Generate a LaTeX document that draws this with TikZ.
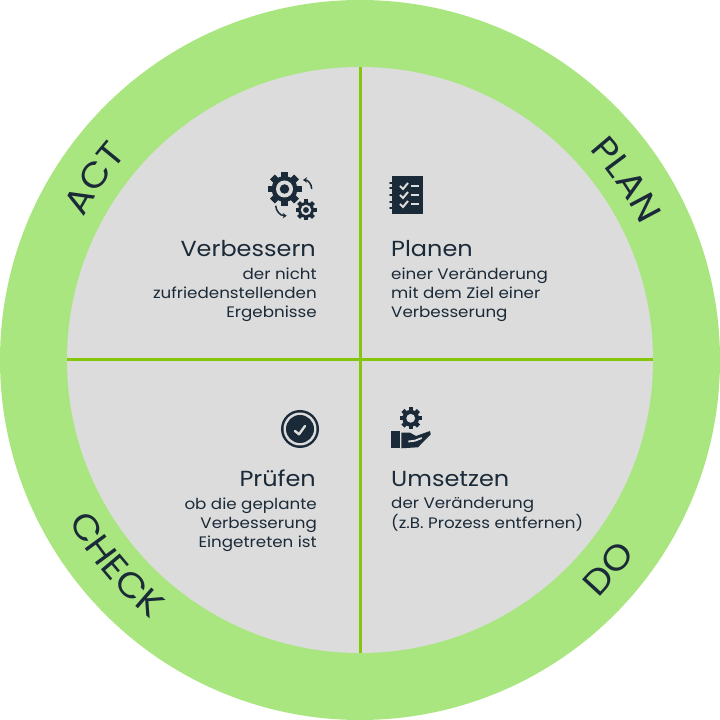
\documentclass[tikz,border=0pt]{standalone}
\usepackage{fontspec}
\setmainfont[FakeStretch=1.1]{Poppins}
\usetikzlibrary{decorations.text,arrows.meta}
\definecolor{ring}{HTML}{A9E680}
\definecolor{disc}{HTML}{DCDCDC}
\definecolor{axis}{HTML}{85C60A}
\definecolor{ink}{HTML}{1B2A38}
\tikzset{
 title/.style={text=ink,font=\fontsize{21.8}{24}\selectfont,inner sep=0pt},
 bodyL/.style={text=ink,font=\fontsize{15.2}{19.2}\selectfont,align=left,inner sep=0pt,anchor=north west},
 bodyR/.style={text=ink,font=\fontsize{15.2}{19.2}\selectfont,align=right,inner sep=0pt,anchor=north east},
 axisline/.style={draw=axis,line width=3pt},
 curved/.style={decorate,decoration={text along path,text align=center,text={|\fontsize{35}{35}\selectfont\color{ink}|#1}}},
 turnarrow/.style={draw=ink,line width=1.5pt,-{Stealth[length=4pt,width=5.5pt]}},
}
\newcommand{\gearmark}[4]{%
 \begin{scope}[shift={(#1,720-#2)}]
  \foreach \a in {1,...,#4}{\fill[ink,rotate=\a*360/#4] (-0.2*#3,0) rectangle (0.2*#3,#3);}
  \fill[ink] (0,0) circle (0.76*#3);
  \fill[disc] (0,0) circle (0.5*#3);
  \fill[ink] (0,0) circle (0.28*#3);
 \end{scope}}
\begin{document}
\begin{tikzpicture}[x=1pt,y=1pt]
\useasboundingbox (0,0) rectangle (720,720);
\fill[ring] (360,360) circle (360);
\fill[disc] (360,360) circle (293);
\coordinate (t) at (360,653); \coordinate (b) at (360,67);
\coordinate (l) at (67,360); \coordinate (r) at (653,360);
\draw[axisline] (t) -- (b);
\draw[axisline] (l) -- (r);
\path[curved={PLAN}] (360,360) ++(64:311) arc[start angle=64,end angle=4,radius=311];
\path[curved={ACT}] (360,360) ++(175.7:311) arc[start angle=175.7,end angle=115.7,radius=311];
\path[curved={CHECK}] (360,360) ++(185:333) arc[start angle=185,end angle=255,radius=333];
\path[curved={DO}] (360,360) ++(295:337) arc[start angle=295,end angle=345,radius=337];
\node[title,anchor=base east] (tv) at (316,720-257) {Verbessern};
\node[bodyR] (bv) at (317,720-267.5) {der nicht\\zufriedenstellenden\\Ergebnisse};
\node[title,anchor=base west] (tp) at (391,720-257) {Planen};
\node[bodyL] (bp) at (391,720-267.5) {einer Veränderung\\mit dem Ziel einer\\Verbesserung};
\node[title,anchor=base east] (tc) at (316,720-487) {Prüfen};
\node[bodyR] (bc) at (317,720-497.5) {ob die geplante\\Verbesserung\\Eingetreten ist};
\node[title,anchor=base west] (tu) at (391,720-487) {Umsetzen};
\node[bodyL] (bu) at (391,720-497.5) {der Veränderung\\(z.B. Prozess entfernen)};
\gearmark{284.5}{189}{17}{8}
\gearmark{306}{210}{10.5}{8}
\draw[turnarrow] (311.7,531) .. controls (311.7,536) and (308,540) .. (303,540);
\draw[turnarrow] (275.7,514.3) .. controls (276,509) and (280,504.3) .. (286.7,504.3);
\fill[ink] (392,544) rectangle (423,506);
\foreach \y in {537,532,525,518,512}{\draw[ink,line width=2pt,line cap=round] (390,\y) -- (395,\y);}
\foreach \y in {534,525,516}{
 \draw[disc,line width=2pt] (400,\y) -- (403,\y-3) -- (408,\y+3);
 \draw[disc,line width=2pt] (411,\y) -- (419,\y);}
\fill[ink] (300,291) circle (19);
\fill[disc] (300,291) circle (16.5);
\fill[ink] (300,291) circle (14);
\draw[disc,line width=2.4pt,line cap=round,line join=round] (295,289) -- (299,285.7) -- (305,294);
\begin{scope}[shift={(410.7,301.7)}]
  \foreach \a in {1,...,8}{\fill[ink,rotate=\a*45] (-2.2,0) rectangle (2.2,11);}
  \fill[ink] (0,0) circle (8.4);
  \fill[disc] (0,0) circle (4.4);
\end{scope}
\fill[ink] (391,289) rectangle (399.5,272);
\fill[ink] (401.3,287.3) -- (410,287.3) -- (416,284) -- (430,289) -- (430.7,285.7) -- (418,272.7) -- (401.3,271.7) -- cycle;
\draw[disc,line width=1.8pt] (408.3,278.5) -- (415,279.3) -- (421.7,282);
\end{tikzpicture}
\end{document}
